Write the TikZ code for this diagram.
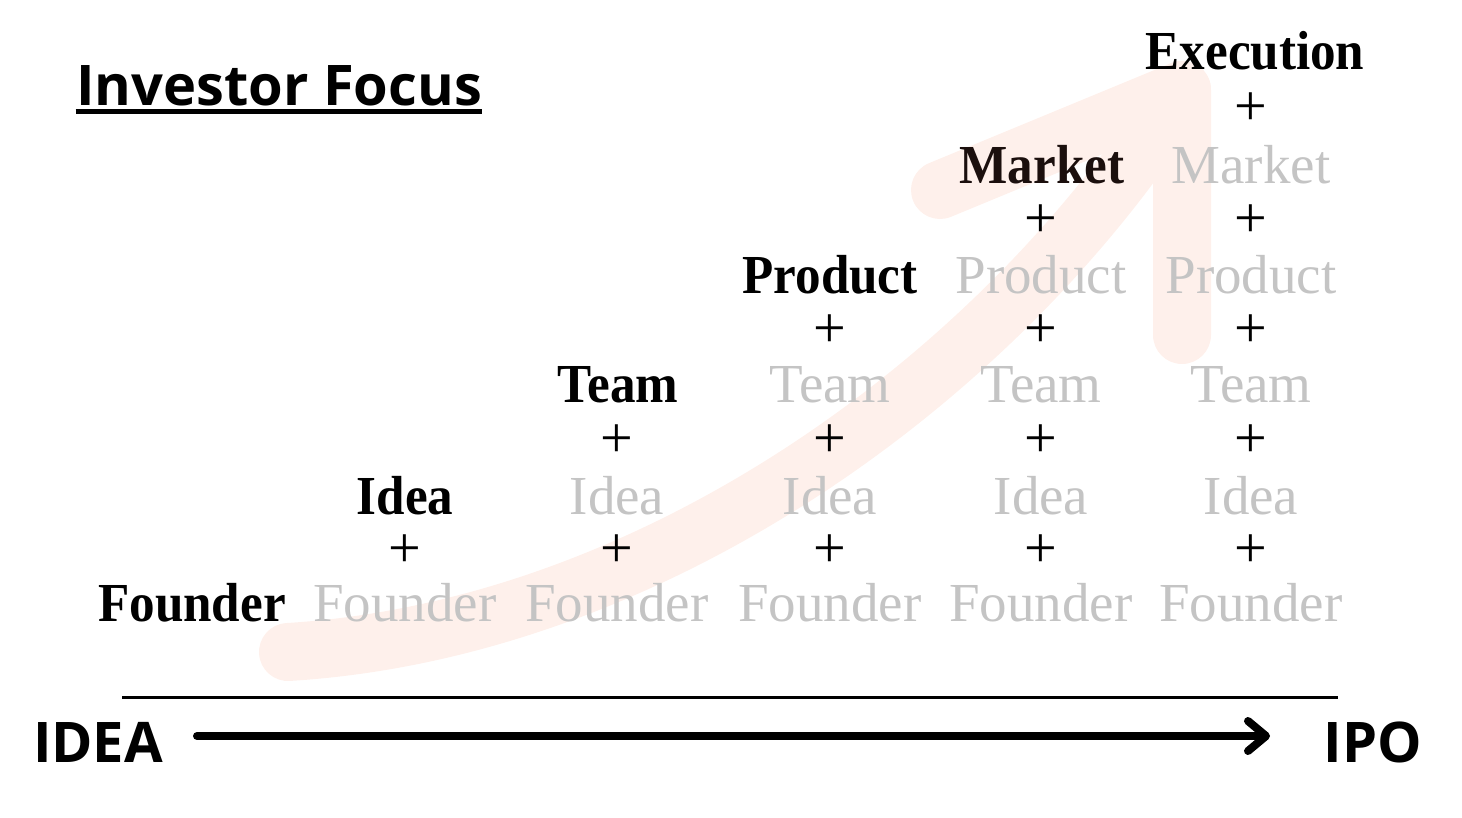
\documentclass[tikz,border=0pt]{standalone}
\usepackage{fontspec}
\setmainfont{Liberation Serif}
\newfontfamily\boldserif{Liberation Serif}[FakeStretch=0.93]
\newfontfamily\sansbold{Open Sans}
\usetikzlibrary{arrows.meta}
\definecolor{peach}{RGB}{254,240,235}
\definecolor{fadetext}{RGB}{196,196,196}
\definecolor{darkword}{RGB}{27,15,13}
\tikzset{
  bw/.style={anchor=base,inner sep=0pt,font=\boldserif\bfseries\fontsize{27.5pt}{30pt}\selectfont,text=black},
  gw/.style={anchor=base,inner sep=0pt,font=\fontsize{27.5pt}{30pt}\selectfont,text=fadetext},
  pl/.style={anchor=center,inner sep=0pt,font=\fontsize{29pt}{30pt}\selectfont,text=black},
  sw/.style={anchor=base,inner sep=0pt,font=\sansbold\bfseries\fontsize{28pt}{30pt}\selectfont,text=black},
  bigarrow/.style={draw=peach,line width=29pt,line cap=round,line join=round},
}
\begin{document}
\begin{tikzpicture}[x=0.5pt,y=-0.5pt]
\useasboundingbox (0,0) rectangle (1462,818);
% big growth arrow (background)
\coordinate (s0) at (288,652);
\coordinate (tip) at (1182,90);
\coordinate (la) at (940,190);
\coordinate (ra) at (1182,335);
\draw[bigarrow] (s0) .. controls (650,630) and (1000,380) .. (tip);
\draw[bigarrow] (la) -- (tip) -- (ra);
% title
\node[sw] (title) at (279,106) {Investor Focus};
\draw[line width=2.5pt] ([yshift=-3pt]title.base west) -- ([yshift=-3pt]title.base east);
% faded words and plus signs
\foreach \c/\x in {1/405,2/617,3/830,4/1041,5/1251} {
  \foreach \r/\y/\py/\t in {0/621/551/Founder,1/514/441/Idea,2/402/331/Team,3/293/221/Product,4/184/109/Market} {
    \ifnum\r<\c
      \node[gw] (g-\c-\r) at (\x,\y) {\t};
      \node[pl] (p-\c-\r) at (\x,\py) {+};
    \fi
  }
}
% highlighted words
\node[bw] (founder) at (192,621) {Founder};
\node[bw] (idea) at (405,514) {Idea};
\node[bw] (team) at (618,402) {Team};
\node[bw] (product) at (830,293) {Product};
\node[bw,text=darkword] (market) at (1042,184) {Market};
\node[bw] (execution) at (1255,70) {Execution};
% timeline
\coordinate (l1) at (122,697);
\coordinate (l2) at (1338,697);
\draw[line width=1.5pt] (l1) -- (l2);
\node[sw] (start) at (98,762) {IDEA};
\node[sw] (end) at (1373,762) {IPO};
\coordinate (a1) at (197,736);
\coordinate (a2) at (1270,736);
\draw[line width=4pt,line cap=round,-{Straight Barb[length=9pt,width=15pt,line cap=round,line join=round]}] (a1) -- (a2);
\end{tikzpicture}
\end{document}
